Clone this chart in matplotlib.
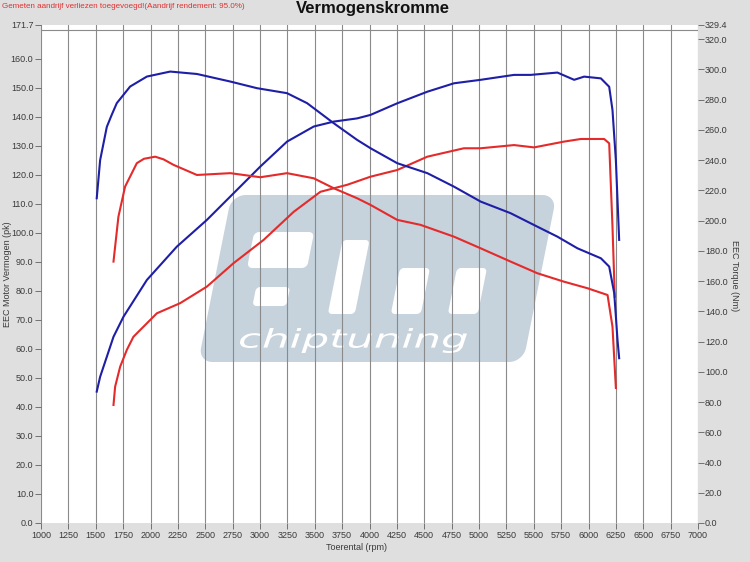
import numpy as np
import matplotlib
matplotlib.use("Agg")
import matplotlib.pyplot as plt
from matplotlib.patches import Polygon, PathPatch
from matplotlib.path import Path
from matplotlib.textpath import TextPath
from matplotlib.font_manager import FontProperties
from matplotlib.ticker import FixedLocator, FuncFormatter

plt.rcParams['font.family'] = ['Liberation Sans', 'DejaVu Sans']

# ---------------- data ----------------
# tuned (blue) power, pk
rpm_power_tuned = [1509, 1540, 1601, 1662, 1753, 1967, 2241, 2515, 2759, 3003, 3247, 3491, 3674, 3887,
                   4009, 4253, 4528, 4771, 5015, 5320, 5472, 5716, 5869, 5960, 6113, 6189,
                   6219, 6250, 6280]
power_tuned = [45.3, 50.4, 57.3, 64.2, 71.1, 83.8, 95.3, 104.5, 113.7, 122.9, 131.5, 136.7, 138.4, 139.5,
               140.7, 144.7, 148.7, 151.6, 152.8, 154.5, 154.5, 155.3, 152.8, 153.9, 153.3, 150.4,
               142.4, 125.0, 97.6]
# tuned (blue) torque, Nm
rpm_torque_tuned = [1509, 1540, 1601, 1646, 1692, 1753, 1814, 1967, 2180, 2424, 2729, 2973, 3247, 3430,
                    3674, 3887, 4009, 4253, 4528, 4771, 5015, 5289, 5533, 5716, 5899, 6113,
                    6189, 6235, 6265, 6280]
torque_tuned = [214.8, 240.0, 262.0, 270.0, 277.7, 283.2, 288.7, 295.3, 298.6, 297.0, 292.0, 287.6, 284.3, 277.7,
                264.4, 253.4, 247.9, 238.0, 231.4, 222.5, 212.6, 204.9, 196.0, 189.4, 181.7, 175.1,
                169.6, 152.0, 121.0, 109.0]
# stock (red) power, pk
rpm_power_stock = [1662, 1677, 1723, 1784, 1844, 2058, 2271, 2515, 2759, 3033, 3308, 3552, 3796, 4009,
                   4253, 4528, 4862, 5015, 5320, 5503, 5777, 5930, 6143, 6189, 6219, 6240]
power_stock = [40.7, 47.0, 53.9, 59.7, 64.2, 72.3, 75.8, 81.5, 89.6, 97.6, 107.3, 114.2, 116.6, 119.4,
               121.7, 126.3, 129.2, 129.2, 130.3, 129.5, 131.5, 132.4, 132.4, 130.9, 102.2, 78.0]
# stock (red) torque, Nm
rpm_torque_stock = [1662, 1707, 1768, 1875, 1940, 2043, 2120, 2210, 2424, 2729, 3003, 3247, 3491, 3674,
                    3887, 4009, 4253, 4466, 4771, 5015, 5289, 5533, 5777, 5990, 6174, 6219, 6250]
torque_stock = [172.9, 202.6, 222.5, 238.0, 240.9, 242.3, 240.5, 236.9, 230.2, 231.4, 228.7, 231.4, 228.0, 221.4,
                214.8, 210.4, 200.5, 197.2, 189.4, 181.7, 172.9, 165.2, 159.6, 155.3, 150.8, 129.9, 89.3]

x_ticks = list(range(1000, 7001, 250))
left_ticks = [float(v) for v in range(0, 161, 10)] + [171.7]
right_ticks = [float(v) for v in range(0, 321, 20)] + [329.4]

note_text = "Gemeten aandrijf verliezen toegevoegd!(Aandrijf rendement: 95.0%)"
title_text = "Vermogenskromme"
xlabel_text = "Toerental (rpm)"
ylabel_left = "EEC Motor Vermogen (pk)"
ylabel_right = "EEC Torque (Nm)"

# ---------------- figure ----------------
W, H = 750, 562
fig = plt.figure(figsize=(7.5, 5.62), dpi=100, facecolor='#dfdfdf')
ax = fig.add_axes([41 / W, 1 - 523 / H, 657 / W, 498 / H])
ax.set_facecolor('white')
ax.set_xlim(1000, 7000)
ax.set_ylim(0, 171.7)
ax.set_axisbelow('line')

ax2 = ax.twinx()
ax2.set_ylim(0, 329.4)

grid_col = '#8a8a8a'
tick_col = '#606060'
lab_col = '#3a3a3a'

ax.set_xticks(x_ticks)
ax.set_xticklabels([str(v) for v in x_ticks])
ax.set_yticks(left_ticks)
ax.yaxis.set_major_formatter(FuncFormatter(lambda v, p: f"{v:.1f}"))
ax.yaxis.set_minor_locator(FixedLocator(np.arange(0, 171, 10)))
ax.grid(which='major', axis='x', color=grid_col, lw=0.8)
ax.grid(which='minor', axis='y', color=grid_col, lw=0.8)
ax.tick_params(which='minor', length=0)
ax.tick_params(which='major', labelsize=6.5, colors=tick_col, labelcolor=lab_col,
               length=4, width=0.6, pad=1.5)

ax2.set_yticks(right_ticks)
ax2.yaxis.set_major_formatter(FuncFormatter(lambda v, p: f"{v:.1f}"))
ax2.tick_params(which='major', labelsize=6.5, colors=tick_col, labelcolor=lab_col,
                length=4, width=0.6, pad=1.0)

for a in (ax, ax2):
    for s in a.spines.values():
        s.set_visible(False)

# ---------------- watermark logo ----------------
def px2ax(pts):
    pts = np.asarray(pts, dtype=float)
    return np.column_stack([(pts[:, 0] - 41) / 657, (523 - pts[:, 1]) / 498])

def rrect(x0, y0, x1, y1, r, n=10):
    pts = []
    corners = [(x1 - r, y0 + r, -90, 0), (x1 - r, y1 - r, 0, 90),
               (x0 + r, y1 - r, 90, 180), (x0 + r, y0 + r, 180, 270)]
    for cx, cy, a0, a1 in corners:
        t = np.radians(np.linspace(a0, a1, n))
        pts += list(zip(cx + r * np.cos(t), cy + r * np.sin(t)))
    return np.array(pts)

def skew(pts, k=0.2, yc=278):
    pts = np.array(pts, dtype=float)
    pts[:, 0] = pts[:, 0] + k * (yc - pts[:, 1])
    return pts

logo_col = '#c6d2dc'
body = skew(rrect(215, 195, 540, 362, 14))
ax.add_patch(Polygon(px2ax(body), closed=True, transform=ax.transAxes,
                     facecolor=logo_col, edgecolor='none', zorder=1))
gaps = [(245, 232, 305, 268, 5), (258, 287, 292, 306, 4), (335, 240, 362, 314, 4),
        (398, 268, 428, 314, 4), (455, 268, 485, 314, 4)]
for gx0, gy0, gx1, gy1, gr in gaps:
    g = skew(rrect(gx0, gy0, gx1, gy1, gr, n=6))
    ax.add_patch(Polygon(px2ax(g), closed=True, transform=ax.transAxes,
                         facecolor='white', edgecolor='none', zorder=1.1))

tp = TextPath((0, 0), "chiptuning", size=20,
              prop=FontProperties(family='DejaVu Sans', style='oblique', weight='light'))
v = tp.vertices.copy()
xmin, ymin = v.min(axis=0)
xmax, ymax = v.max(axis=0)
tx = 238 + (v[:, 0] - xmin) / (xmax - xmin) * (467 - 238)
ty = 353 - (v[:, 1] - ymin) / (ymax - ymin) * (353 - 328)
tv = px2ax(np.column_stack([tx, ty]))
ax.add_patch(PathPatch(Path(tv, tp.codes), transform=ax.transAxes,
                       facecolor='white', edgecolor='none', zorder=1.2))

# ---------------- curves ----------------
blue = '#1e1ea6'
red = '#e42a2a'
ax.plot(rpm_power_tuned, power_tuned, color=blue, lw=1.5, zorder=3)
ax.plot(rpm_power_stock, power_stock, color=red, lw=1.5, zorder=3)
ax2.plot(rpm_torque_tuned, torque_tuned, color=blue, lw=1.5, zorder=3)
ax2.plot(rpm_torque_stock, torque_stock, color=red, lw=1.5, zorder=3)

# ---------------- texts ----------------
fig.text(2 / W, 1 - 7 / H, note_text, color='#e03030', fontsize=5.8, va='center', ha='left')
fig.text(373 / W, 1 - 9 / H, title_text, fontsize=12, fontweight='bold', ha='center',
         va='center', color='#111111')
fig.text(357 / W, 1 - 548 / H, xlabel_text, fontsize=6.5, ha='center', va='center', color=lab_col)
fig.text(8 / W, 1 - 274 / H, ylabel_left, fontsize=6.5, rotation=90, ha='center', va='center',
         color=lab_col)
fig.text(735 / W, 1 - 276 / H, ylabel_right, fontsize=6.5, rotation=270, ha='center', va='center',
         color=lab_col)

fig.savefig('out.png', dpi=100, facecolor=fig.get_facecolor())
